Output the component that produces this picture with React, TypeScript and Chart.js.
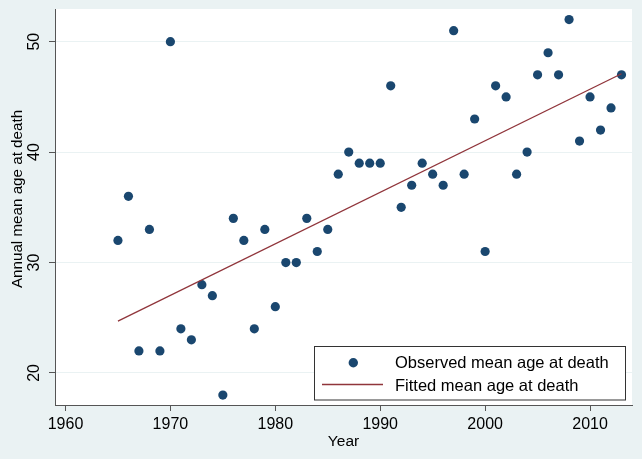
import React, { useEffect, useRef } from "react";
import { Chart, registerables } from "chart.js";

Chart.register(...registerables);

const years = [
  1965, 1966, 1967, 1968, 1969, 1970, 1971, 1972, 1973, 1974,
  1975, 1976, 1977, 1978, 1979, 1980, 1981, 1982, 1983, 1984,
  1985, 1986, 1987, 1988, 1989, 1990, 1991, 1992, 1993, 1994,
  1995, 1996, 1997, 1998, 1999, 2000, 2001, 2002, 2003, 2004,
  2005, 2006, 2007, 2008, 2009, 2010, 2011, 2012, 2013,
];
const observed = [
  32, 36, 22, 33, 22, 50, 24, 23, 28, 27,
  18, 34, 32, 24, 33, 26, 30, 30, 34, 31,
  33, 38, 40, 39, 39, 39, 46, 35, 37, 39,
  38, 37, 51, 38, 43, 31, 46, 45, 38, 40,
  47, 49, 47, 52, 41, 45, 42, 44, 47,
];
const fittedYears = [1965, 2013];
const fittedValues = [24.7, 47.1];

const xTicks = [1960, 1970, 1980, 1990, 2000, 2010];
const yTicks = [20, 30, 40, 50];

const FONT = '"Liberation Sans", Arial, Helvetica, sans-serif';
const NAVY = "#1a476f";
const MAROON = "#90353b";
const BG = "#eaf2f3";
const AXIS = "#555555";

export default function App() {
  const ref = useRef<HTMLCanvasElement | null>(null);

  useEffect(() => {
    document.body.style.margin = "0";
    const canvas = ref.current;
    if (!canvas) return;

    const decor = {
      id: "decor",
      beforeDraw(chart: any) {
        const { ctx, chartArea } = chart;
        ctx.save();
        ctx.fillStyle = BG;
        ctx.fillRect(0, 0, chart.width, chart.height);
        ctx.fillStyle = "#ffffff";
        ctx.fillRect(chartArea.left, chartArea.top, chartArea.right - chartArea.left, chartArea.bottom - chartArea.top);
        ctx.restore();
      },
      afterDraw(chart: any) {
        const { ctx, chartArea } = chart;
        const xs = chart.scales.x;
        const ys = chart.scales.y;
        ctx.save();
        ctx.fillStyle = "#000000";
        // x tick labels
        ctx.font = `16px ${FONT}`;
        ctx.textAlign = "center";
        ctx.textBaseline = "middle";
        xTicks.forEach((t) => {
          ctx.fillText(String(t), xs.getPixelForValue(t), 425);
        });
        // y tick labels rotated
        yTicks.forEach((t) => {
          ctx.save();
          ctx.translate(35, ys.getPixelForValue(t));
          ctx.rotate(-Math.PI / 2);
          ctx.fillText(String(t), 0, 0);
          ctx.restore();
        });
        // axis titles
        ctx.font = `15.5px ${FONT}`;
        ctx.fillText("Year", (chartArea.left + chartArea.right) / 2, 442);
        ctx.save();
        ctx.translate(18, 199);
        ctx.rotate(-Math.PI / 2);
        ctx.font = `15.2px ${FONT}`;
        ctx.fillText("Annual mean age at death", 0, 0);
        ctx.restore();

        // legend
        const ds = chart.data.datasets;
        ctx.fillStyle = "#ffffff";
        ctx.fillRect(314.5, 346.5, 311, 53.5);
        ctx.strokeStyle = "#333333";
        ctx.lineWidth = 1;
        ctx.strokeRect(314.5, 346.5, 311, 53.5);
        ctx.fillStyle = NAVY;
        ctx.beginPath();
        ctx.arc(353.3, 362.7, 4.7, 0, Math.PI * 2);
        ctx.fill();
        ctx.strokeStyle = MAROON;
        ctx.lineWidth = 1.3;
        ctx.beginPath();
        ctx.moveTo(322, 384.5);
        ctx.lineTo(383, 384.5);
        ctx.stroke();
        ctx.fillStyle = "#000000";
        ctx.font = `16.5px ${FONT}`;
        ctx.textAlign = "left";
        ctx.fillText(ds[0].label, 395, 363);
        ctx.fillText(ds[1].label, 395, 386);
        ctx.restore();
      },
    };

    const chart = new Chart(canvas, {
      type: "scatter",
      data: {
        datasets: [
          {
            label: "Observed mean age at death",
            data: years.map((x, i) => ({ x, y: observed[i] })),
            backgroundColor: NAVY,
            borderWidth: 0,
            pointRadius: 4.6,
            pointHoverRadius: 4.6,
            order: 1,
          },
          {
            type: "line",
            label: "Fitted mean age at death",
            data: fittedYears.map((x, i) => ({ x, y: fittedValues[i] })),
            borderColor: MAROON,
            borderWidth: 1.3,
            pointRadius: 0,
            fill: false,
            order: 0,
          } as any,
        ],
      },
      options: {
        animation: false,
        responsive: false,
        devicePixelRatio: 1,
        layout: { padding: { top: 9, right: 10, left: 0, bottom: 0 } },
        plugins: {
          legend: { display: false },
          tooltip: { enabled: false },
        },
        events: [],
        scales: {
          x: {
            type: "linear",
            min: 1959,
            max: 2014,
            afterBuildTicks: (s: any) => {
              s.ticks = xTicks.map((v) => ({ value: v }));
            },
            afterFit: (s: any) => {
              s.height = 54;
            },
            ticks: { display: false },
            grid: {
              display: true,
              drawOnChartArea: false,
              drawTicks: true,
              tickLength: 6,
              tickColor: AXIS,
              tickWidth: 1,
            },
            border: { display: true, color: AXIS, width: 1 },
          },
          y: {
            type: "linear",
            min: 17.1,
            max: 52.96,
            afterBuildTicks: (s: any) => {
              s.ticks = yTicks.map((v) => ({ value: v }));
            },
            afterFit: (s: any) => {
              s.width = 55;
            },
            ticks: { display: false },
            grid: {
              display: true,
              drawOnChartArea: true,
              color: BG,
              lineWidth: 1,
              drawTicks: true,
              tickLength: 6,
              tickColor: AXIS,
              tickWidth: 1,
            },
            border: { display: true, color: AXIS, width: 1 },
          },
        },
      },
      plugins: [decor],
    });

    return () => chart.destroy();
  }, []);

  return (
    <div style={{ width: 642, height: 459 }}>
      <canvas ref={ref} width={642} height={459} style={{ display: "block", width: 642, height: 459 }} />
    </div>
  );
}
